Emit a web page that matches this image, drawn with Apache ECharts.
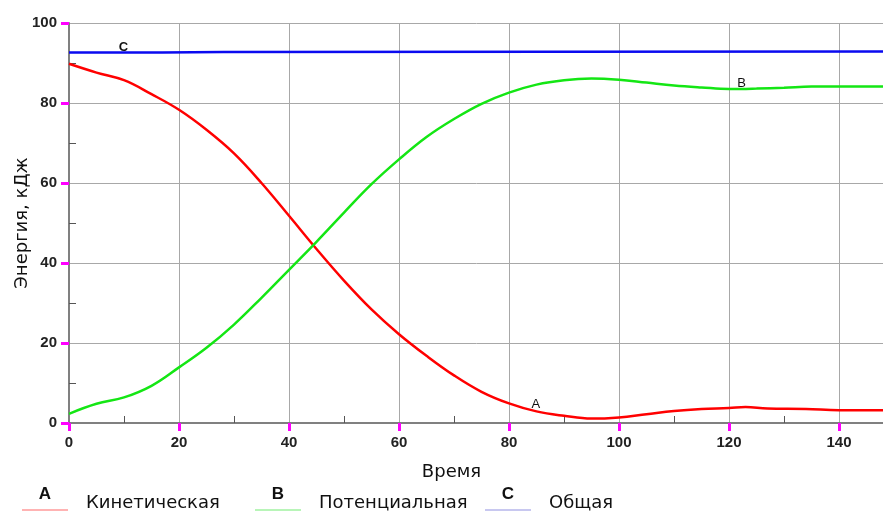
<!DOCTYPE html>
<html>
<head>
<meta charset="utf-8">
<script src="https://cdn.jsdelivr.net/npm/echarts@6/dist/echarts.min.js"></script>
<style>
  html, body { margin: 0; padding: 0; background: #fff; }
  #chart { width: 883px; height: 511px; }
</style>
</head>
<body>
<div id="chart"></div>
<script>
// time axis (Время) and energies in kJ
var timeA    = [0, 5, 10, 15, 20, 25, 30, 35, 40, 45, 50, 55, 60, 65, 70, 75, 80, 85, 90, 95, 100, 105, 110, 115, 120, 123, 127, 134, 140, 150];
var kinetic  = [89.8, 87.6, 85.7, 82.2, 78.3, 73.3, 67.4, 60.0, 51.8, 43.5, 35.6, 28.4, 22.2, 16.8, 11.9, 7.8, 4.9, 2.9, 1.8, 1.1, 1.4, 2.2, 3.0, 3.5, 3.75, 4.0, 3.6, 3.5, 3.2, 3.2];

var timeB     = [0, 5, 10, 15, 20, 25, 30, 35, 40, 45, 50, 55, 60, 65, 70, 75, 80, 85, 90, 95, 100, 105, 110, 115, 120, 125, 130, 135, 150];
var potential = [2.3, 4.8, 6.4, 9.3, 13.9, 18.8, 24.6, 31.3, 38.3, 45.3, 52.6, 59.7, 65.9, 71.5, 76.0, 79.8, 82.6, 84.6, 85.7, 86.1, 85.8, 85.1, 84.4, 83.9, 83.5, 83.6, 83.8, 84.1, 84.1];

var timeC = [0, 17, 17.1, 28, 28.1, 150];
var total = [92.6, 92.6, 92.75, 92.75, 92.9, 92.9];

var names = ['Кинетическая', 'Потенциальная', 'Общая'];
var letters = ['A', 'B', 'C'];
// where the letter tags sit on each curve [time, energy]
var tagAt = [[84.9, 4.6], [122.3, 85.0], [9.9, 94.0]];

var xRange = [0, 150];
var yRange = [0, 100];
var step = 20;

function pairs(xs, ys) {
    var out = [];
    for (var i = 0; i < xs.length; i++) out.push([xs[i], ys[i]]);
    return out;
}

var lineColors = ['#ff0000', '#14e614', '#0a0af0'];
var legendColors = ['#ffb3b3', '#b8f5b8', '#c8c8f0'];
var legendLeft = [22, 255, 485];
var numFont = 'Liberation Sans, Arial, sans-serif';
var txtFont = 'DejaVu Sans, sans-serif';

var chart = echarts.init(document.getElementById('chart'));

var seriesData = [pairs(timeA, kinetic), pairs(timeB, potential), pairs(timeC, total)];
var series = [];
var legends = [];
var graphics = [];
for (var i = 0; i < 3; i++) {
    series.push({
        name: names[i],
        type: 'line',
        data: seriesData[i],
        smooth: i < 2 ? 0.4 : false,
        showSymbol: false,
        symbol: 'none',
        lineStyle: { color: lineColors[i], width: 2.5 },
        itemStyle: { color: lineColors[i] },
        markPoint: {
            symbol: 'circle',
            symbolSize: 0,
            silent: true,
            label: {
                show: true,
                position: 'inside',
                formatter: letters[i],
                color: '#111',
                fontFamily: numFont,
                fontSize: 13,
                fontWeight: i == 2 ? 'bold' : 'normal'
            },
            data: [{ coord: tagAt[i] }]
        }
    });
    // legend keeps the text, the coloured stroke under the letter is drawn below
    legends.push({
        left: legendLeft[i],
        top: 494,
        padding: 0,
        selectedMode: false,
        icon: 'rect',
        itemWidth: 59,
        itemHeight: 2,
        data: [{ name: names[i], itemStyle: { color: 'rgba(0,0,0,0)' } }],
        textStyle: { fontFamily: txtFont, fontSize: 18, color: '#111' }
    });
    graphics.push({
        type: 'rect',
        shape: { x: legendLeft[i], y: 509, width: 46, height: 2 },
        style: { fill: legendColors[i] }
    });
    graphics.push({
        type: 'text',
        x: legendLeft[i] + 23,
        y: 494,
        style: {
            text: letters[i],
            align: 'center',
            verticalAlign: 'middle',
            font: 'bold 17px ' + numFont,
            fill: '#111'
        }
    });
}

var tickLabel = { fontFamily: numFont, fontSize: 15, fontWeight: 'bold', color: '#222', margin: 12 };

// second pair of axes only carries the small inward ticks at the half steps
function minorAxis(range) {
    return {
        type: 'value',
        min: range[0],
        max: range[1],
        interval: step,
        axisLine: { show: false },
        axisLabel: { show: false },
        splitLine: { show: false },
        axisTick: { show: false, inside: true },
        minorTick: { show: true, splitNumber: 2, length: 7, lineStyle: { color: '#555', width: 1 } }
    };
}

var option = {
    animation: false,
    backgroundColor: '#fff',
    grid: { left: 69, top: 23, right: -11, bottom: 88, containLabel: false, outerBoundsMode: 'none' },
    legend: legends,
    graphic: graphics,
    xAxis: [{
        type: 'value',
        min: xRange[0],
        max: xRange[1],
        interval: step,
        name: 'Время',
        nameLocation: 'middle',
        nameGap: 40,
        nameMoveOverlap: false,
        nameTextStyle: { fontFamily: txtFont, fontSize: 18, color: '#111', padding: [0, 60, 0, 0] },
        axisLine: { lineStyle: { color: '#808080', width: 2 } },
        axisTick: { show: true, length: 8, lineStyle: { color: '#ff00ff', width: 3 } },
        axisLabel: Object.assign({ showMaxLabel: false }, tickLabel),
        splitLine: { show: true, lineStyle: { color: '#a8a8a8', width: 1 } }
    }, Object.assign({ position: 'bottom' }, minorAxis(xRange))],
    yAxis: [{
        type: 'value',
        min: yRange[0],
        max: yRange[1],
        interval: step,
        name: 'Энергия, кДж',
        nameLocation: 'middle',
        nameGap: 38,
        nameMoveOverlap: false,
        nameTextStyle: { fontFamily: txtFont, fontSize: 18, color: '#111' },
        axisLine: { show: true, lineStyle: { color: '#808080', width: 2 } },
        axisTick: { show: true, length: 8, lineStyle: { color: '#ff00ff', width: 3 } },
        axisLabel: tickLabel,
        splitLine: { show: true, lineStyle: { color: '#a8a8a8', width: 1 } }
    }, Object.assign({ position: 'left' }, minorAxis(yRange))],
    series: series
};
chart.setOption(option);
</script>
</body>
</html>
